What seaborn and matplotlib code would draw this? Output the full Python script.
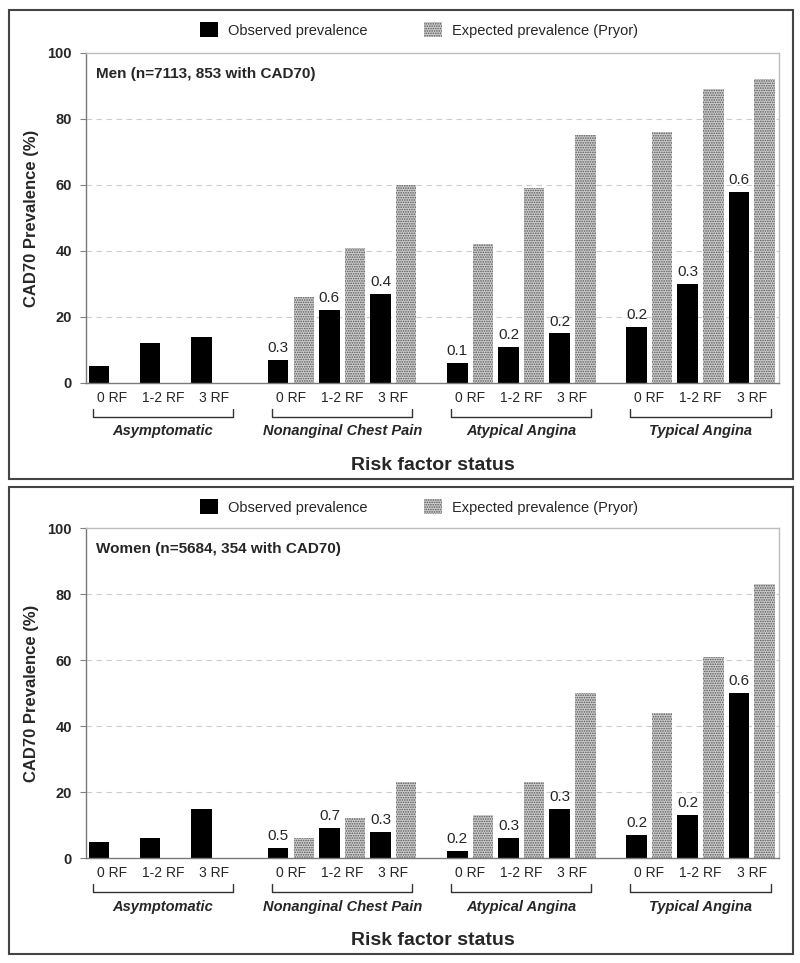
import pandas as pd
import seaborn as sns
import matplotlib.pyplot as plt
from matplotlib.patches import Patch, Rectangle

groups = ["Asymptomatic", "Nonanginal Chest Pain", "Atypical Angina", "Typical Angina"]
rf_levels = ["0 RF", "1-2 RF", "3 RF"]

men_observed = [5, 12, 14, 7, 22, 27, 6, 11, 15, 17, 30, 58]
men_expected = [None, None, None, 26, 41, 60, 42, 59, 75, 76, 89, 92]
men_ratio = [None, None, None, "0.3", "0.6", "0.4", "0.1", "0.2", "0.2", "0.2", "0.3", "0.6"]

women_observed = [5, 6, 15, 3, 9, 8, 2, 6, 15, 7, 13, 50]
women_expected = [None, None, None, 6, 12, 23, 13, 23, 50, 44, 61, 83]
women_ratio = [None, None, None, "0.5", "0.7", "0.3", "0.2", "0.3", "0.3", "0.2", "0.2", "0.6"]

sns.set_style("white")
plt.rcParams["font.family"] = ["Liberation Sans", "DejaVu Sans"]
plt.rcParams["hatch.linewidth"] = 0.8

GROUP_STEP = 3.5
EXP_SHIFT = 0.5
stipple = dict(facecolor="#cfcfcf", edgecolor="#555555", hatch=".......", linewidth=0)


def make_df(observed, expected, ratio):
    rows = []
    for g, grp in enumerate(groups):
        for r, rf in enumerate(rf_levels):
            i = g * 3 + r
            rows.append({"group": grp, "rf": rf, "pos": g * GROUP_STEP + r,
                         "observed": observed[i], "expected": expected[i],
                         "ratio": ratio[i]})
    df = pd.DataFrame(rows)
    df["expected"] = pd.to_numeric(df["expected"])
    df["exp_pos"] = df["pos"] + EXP_SHIFT
    return df


def draw_panel(ax, df, title):
    sns.barplot(data=df, x="pos", y="observed", native_scale=True, width=0.4,
                color="black", saturation=1, errorbar=None, ax=ax, linewidth=0)
    exp_df = df.dropna(subset=["expected"])
    sns.barplot(data=exp_df, x="exp_pos", y="expected", native_scale=True, width=0.4,
                errorbar=None, ax=ax, **stipple)

    for _, row in df.dropna(subset=["ratio"]).iterrows():
        ax.text(row["pos"], row["observed"] + 1.5, row["ratio"], ha="center",
                va="bottom", fontsize=11)

    ax.set_xlim(-0.255, 13.28)
    ax.set_ylim(0, 100)
    ax.set_yticks([0, 20, 40, 60, 80, 100])
    ax.set_yticklabels(["0", "20", "40", "60", "80", "100"], fontweight="bold", fontsize=10.5)
    ax.set_xticks(df["pos"] + EXP_SHIFT / 2)
    ax.set_xticklabels(df["rf"], fontsize=10)
    ax.tick_params(axis="x", length=0, pad=6)
    ax.tick_params(axis="y", length=4, color="#808080", left=True, pad=6)
    for y in [20, 40, 60, 80]:
        ax.axhline(y, color="#cccccc", lw=0.8, ls=(0, (5, 4)), zorder=0)
    for side in ["top", "right"]:
        ax.spines[side].set_color("#bdbdbd")
    for side in ["left", "bottom"]:
        ax.spines[side].set_color("#7a7a7a")
    for sp in ax.spines.values():
        sp.set_linewidth(1.0)

    ax.set_ylabel("CAD70 Prevalence (%)", fontweight="bold", fontsize=12, labelpad=6)
    ax.set_xlabel("Risk factor status", fontweight="bold", fontsize=14, labelpad=37)
    ax.text(0.014, 0.935, title, transform=ax.transAxes, fontweight="bold",
            fontsize=11, va="center", ha="left")

    trans = ax.get_xaxis_transform()
    for g, grp in enumerate(groups):
        x0 = g * GROUP_STEP - 0.12
        x1 = g * GROUP_STEP + 2.62
        ax.plot([x0, x0, x1, x1], [-0.079, -0.103, -0.103, -0.079], color="#333333",
                lw=1.0, transform=trans, clip_on=False)
        ax.text((x0 + x1) / 2, -0.147, grp, transform=trans, ha="center", va="center",
                fontweight="bold", fontstyle="italic", fontsize=10.5)


fig = plt.figure(figsize=(8, 9.63), dpi=100)
ax_men = fig.add_axes([0.1075, 0.6023, 0.866, 0.3427])
ax_women = fig.add_axes([0.1075, 0.1090, 0.866, 0.3427])

draw_panel(ax_men, make_df(men_observed, men_expected, men_ratio),
           "Men (n=7113, 853 with CAD70)")
draw_panel(ax_women, make_df(women_observed, women_expected, women_ratio),
           "Women (n=5684, 354 with CAD70)")

handles = [Patch(facecolor="black", linewidth=0), Patch(**stipple)]
labels = ["Observed prevalence", "Expected prevalence (Pryor)"]
for y in [0.969, 0.4735]:
    fig.legend(handles, labels, loc="center", bbox_to_anchor=(0.524, y), ncol=2,
               frameon=False, fontsize=10.5, handlelength=1.2, handleheight=1.2,
               columnspacing=3.9, handletextpad=0.7)

for y0, h in [(0.5026, 0.487), (0.0093, 0.485)]:
    fig.add_artist(Rectangle((0.011, y0), 0.98, h, transform=fig.transFigure,
                             fill=False, edgecolor="#444444", lw=1.5))

fig.savefig("out.png", dpi=100)
